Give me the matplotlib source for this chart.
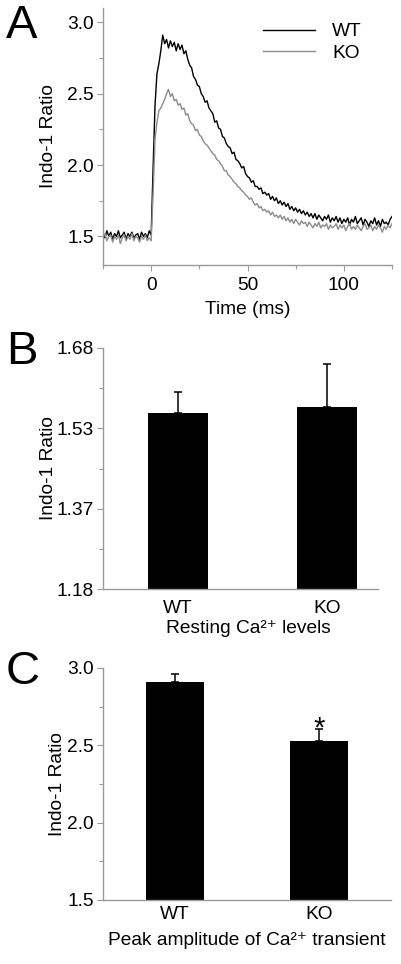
import numpy as np
import matplotlib
matplotlib.use("Agg")
import matplotlib.pyplot as plt

plt.rcParams['font.family'] = ['Liberation Sans', 'DejaVu Sans']

# ---- panel A: Indo-1 ratio traces, sampled every 1 ms from -25 to 125 ms
time_ms = np.arange(-25, 126)
wt_trace = [
    1.52, 1.49, 1.54, 1.50, 1.53, 1.48, 1.52, 1.50, 1.54, 1.49,
    1.51, 1.53, 1.48, 1.52, 1.50, 1.53, 1.49, 1.51, 1.52, 1.48,
    1.53, 1.50, 1.52, 1.49, 1.54, 1.51, 1.98, 2.42, 2.64, 2.71,
    2.80, 2.91, 2.85, 2.88, 2.82, 2.87, 2.83, 2.86, 2.80, 2.85,
    2.81, 2.84, 2.78, 2.80, 2.74, 2.70, 2.68, 2.62, 2.60, 2.56,
    2.55, 2.50, 2.48, 2.44, 2.45, 2.40, 2.38, 2.36, 2.30, 2.31,
    2.26, 2.25, 2.20, 2.19, 2.15, 2.13, 2.12, 2.08, 2.09, 2.04,
    2.03, 2.01, 1.98, 1.99, 1.94, 1.92, 1.91, 1.88, 1.89, 1.85,
    1.85, 1.83, 1.84, 1.80, 1.81, 1.79, 1.80, 1.76, 1.78, 1.75,
    1.77, 1.73, 1.75, 1.72, 1.74, 1.71, 1.73, 1.69, 1.71, 1.68,
    1.70, 1.67, 1.69, 1.66, 1.68, 1.65, 1.67, 1.64, 1.66, 1.63,
    1.66, 1.62, 1.65, 1.63, 1.61, 1.64, 1.62, 1.65, 1.60, 1.63,
    1.61, 1.64, 1.60, 1.63, 1.59, 1.62, 1.60, 1.63, 1.58, 1.62,
    1.60, 1.64, 1.59, 1.61, 1.63, 1.58, 1.62, 1.60, 1.57, 1.61,
    1.59, 1.63, 1.58, 1.61, 1.57, 1.62, 1.59, 1.60, 1.58, 1.62,
    1.64,
]
ko_trace = [
    1.49, 1.52, 1.47, 1.50, 1.51, 1.46, 1.50, 1.48, 1.51, 1.45,
    1.49, 1.51, 1.47, 1.50, 1.48, 1.52, 1.47, 1.50, 1.49, 1.46,
    1.50, 1.48, 1.51, 1.47, 1.49, 1.47, 1.80, 2.18, 2.30, 2.38,
    2.40, 2.43, 2.46, 2.50, 2.53, 2.48, 2.50, 2.45, 2.46, 2.42,
    2.43, 2.39, 2.40, 2.35, 2.36, 2.31, 2.29, 2.28, 2.24, 2.25,
    2.21, 2.20, 2.17, 2.15, 2.14, 2.12, 2.10, 2.08, 2.07, 2.04,
    2.03, 2.01, 1.99, 1.96, 1.96, 1.93, 1.92, 1.90, 1.88, 1.87,
    1.85, 1.84, 1.82, 1.81, 1.79, 1.78, 1.76, 1.77, 1.74, 1.72,
    1.73, 1.70, 1.71, 1.68, 1.69, 1.67, 1.68, 1.65, 1.67, 1.64,
    1.65, 1.63, 1.65, 1.62, 1.64, 1.61, 1.63, 1.60, 1.62, 1.59,
    1.62, 1.60, 1.58, 1.61, 1.59, 1.60, 1.57, 1.60, 1.58, 1.56,
    1.59, 1.57, 1.60, 1.56, 1.58, 1.57, 1.59, 1.55, 1.58, 1.56,
    1.57, 1.59, 1.55, 1.58, 1.56, 1.58, 1.54, 1.57, 1.59, 1.55,
    1.57, 1.55, 1.58, 1.56, 1.54, 1.57, 1.59, 1.55, 1.56, 1.58,
    1.54, 1.57, 1.55, 1.58, 1.56, 1.53, 1.57, 1.55, 1.58, 1.56,
    1.59,
]

# ---- panels B and C: bar summaries
groups = ['WT', 'KO']
resting_mean = [1.546, 1.557]
resting_err = [0.043, 0.089]
resting_ticks = ['1.18', '1.37', '1.53', '1.68']
peak_mean = [2.907, 2.529]
peak_err = [0.056, 0.078]

FS = 13.8
SPINE = '#9a9a9a'
W, H = 401, 964


def fig_rect(left, top, right, bottom):
    return [left / W, 1 - bottom / H, (right - left) / W, (bottom - top) / H]


def style_axes(ax):
    for s in ['top', 'right']:
        ax.spines[s].set_visible(False)
    for s in ['left', 'bottom']:
        ax.spines[s].set_color(SPINE)
        ax.spines[s].set_linewidth(1.0)
    ax.tick_params(which='both', direction='out', color=SPINE, labelsize=FS, width=0.8)
    ax.tick_params(which='major', length=4, pad=2.5)
    ax.tick_params(which='minor', length=3)


fig = plt.figure(figsize=(W / 100, H / 100), dpi=100)

# Panel A
axA = fig.add_axes(fig_rect(103, 8, 392, 265))
style_axes(axA)
axA.plot(time_ms, wt_trace, color='black', lw=1.0, label='WT')
axA.plot(time_ms, ko_trace, color='#8c8c8c', lw=1.0, label='KO')
axA.set_xlim(-25, 125)
axA.set_ylim(1.3, 3.1)
axA.set_xticks([0, 50, 100])
axA.set_xticks([-25, 25, 75, 125], minor=True)
axA.set_yticks([1.5, 2.0, 2.5, 3.0])
axA.set_yticks([1.75, 2.25, 2.75], minor=True)
axA.tick_params(axis='x', which='major', pad=5)
axA.set_xlabel('Time (ms)', fontsize=FS)
axA.xaxis.set_label_coords(0.5, -0.14)
axA.set_ylabel('Indo-1 Ratio', fontsize=FS)
axA.yaxis.set_label_coords(-0.159, 0.5)
axA.legend(frameon=False, fontsize=FS, loc='upper left',
           bbox_to_anchor=(263 / W, 1 - 23 / H), bbox_transform=fig.transFigure,
           borderpad=0, borderaxespad=0, handlelength=2.7, handletextpad=0.9,
           labelspacing=0.2)

# Panel B
axB = fig.add_axes(fig_rect(103, 348, 378, 589))
style_axes(axB)
xpos = np.arange(len(groups))
axB.bar(xpos, resting_mean, width=0.4, color='black')
axB.errorbar(xpos, resting_mean, yerr=[[0, 0], resting_err], fmt='none',
             ecolor='black', elinewidth=1.1, capsize=3, capthick=1.1)
axB.set_xlim(-0.5, 1.34)
axB.set_ylim(1.18, 1.68)
ytB = np.linspace(1.18, 1.68, 4)
axB.set_yticks(ytB)
axB.set_yticklabels(resting_ticks)
axB.set_yticks((ytB[:-1] + ytB[1:]) / 2, minor=True)
axB.set_xticks(xpos)
axB.set_xticklabels(groups)
axB.tick_params(axis='x', which='both', length=0, pad=8)
axB.set_xlabel('Resting Ca²⁺ levels', fontsize=FS)
axB.xaxis.set_label_coords(0.527, -0.13)
axB.set_ylabel('Indo-1 Ratio', fontsize=FS)
axB.yaxis.set_label_coords(-0.167, 0.5)

# Panel C
axC = fig.add_axes(fig_rect(103, 668, 391, 900))
style_axes(axC)
axC.bar(xpos, peak_mean, width=0.4, color='black')
axC.errorbar(xpos, peak_mean, yerr=[[0, 0], peak_err], fmt='none',
             ecolor='black', elinewidth=1.1, capsize=3, capthick=1.1)
axC.set_xlim(-0.5, 1.5)
axC.set_ylim(1.5, 3.0)
axC.set_yticks([1.5, 2.0, 2.5, 3.0])
axC.set_yticks([1.75, 2.25, 2.75], minor=True)
axC.set_xticks(xpos)
axC.set_xticklabels(groups)
axC.tick_params(axis='x', which='both', length=0, pad=4)
axC.text(1, peak_mean[1] + peak_err[1] - 0.05, '*', ha='center', va='baseline', fontsize=21)
axC.set_xlabel('Peak amplitude of Ca²⁺ transient', fontsize=FS)
axC.xaxis.set_label_coords(0.5, -0.14)
axC.set_ylabel('Indo-1 Ratio', fontsize=FS)
axC.yaxis.set_label_coords(-0.128, 0.5)

# panel letters
for letter, top in [('A', 4), ('B', 330), ('C', 650)]:
    fig.text(6 / W, 1 - top / H, letter, fontsize=34, ha='left', va='top')

fig.savefig('out.png', dpi=100)
